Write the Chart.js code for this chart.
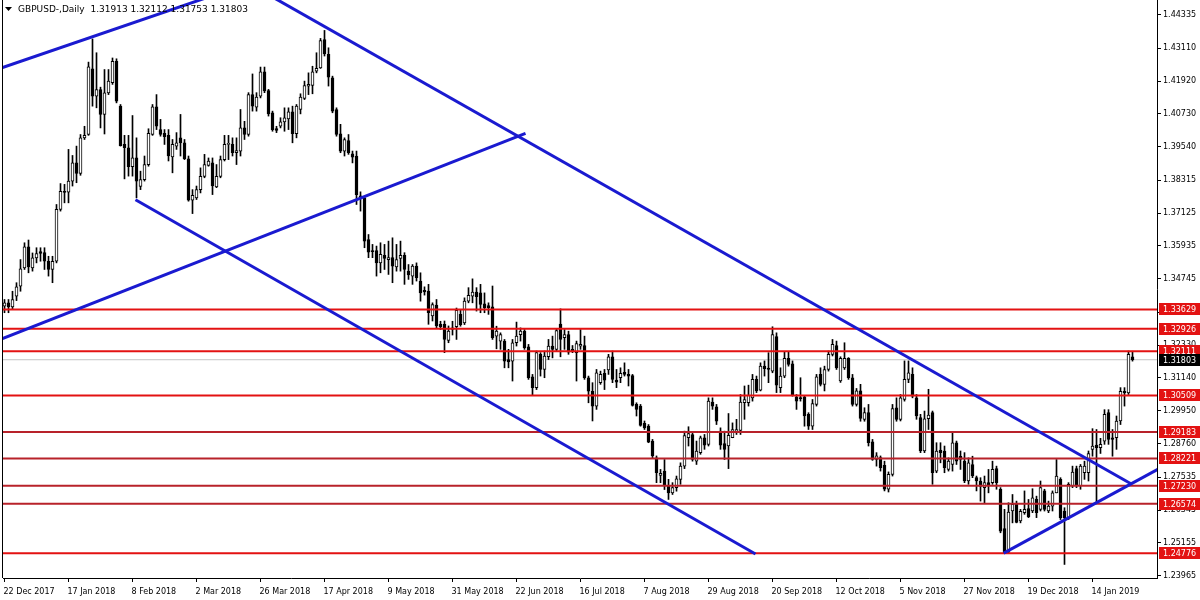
<!DOCTYPE html>
<html>
<head>
<meta charset="utf-8">
<script src="https://cdn.jsdelivr.net/npm/chart.js@4.4.1/dist/chart.umd.min.js"></script>
<style>
  html, body { margin: 0; padding: 0; background: #fff; }
</style>
</head>
<body>
<canvas id="chart" width="1200" height="600"></canvas>
<script>
// GBPUSD daily candles, 22 Dec 2017 .. 28 Jan 2019 (one entry per bar)
const opens = [
  1.3375,1.3387,1.3372,1.3411,1.3447,1.3514,1.3590,1.3514,1.3550,1.3573,
  1.3569,1.3538,1.3508,1.3538,1.3726,1.3792,1.3789,1.3829,1.3895,1.3857,
  1.3986,1.3998,1.4237,1.4137,1.4161,1.4071,1.4149,1.4186,1.4264,1.4101,
  1.3962,1.3950,1.3881,1.3913,1.3810,1.3834,1.3889,1.3998,1.4099,1.4016,
  1.4002,1.3995,1.3917,1.3956,1.3986,1.3968,1.3910,1.3760,1.3768,1.3798,
  1.3846,1.3886,1.3895,1.3808,1.3846,1.3907,1.3962,1.3962,1.3932,1.3938,
  1.4022,1.3998,1.4143,1.4097,1.4137,1.4226,1.4158,1.4077,1.4020,1.4028,
  1.4044,1.4055,1.4080,1.4001,1.4089,1.4129,1.4174,1.4176,1.4228,1.4240,
  1.4343,1.4289,1.4204,1.4089,1.4001,1.3938,1.3976,1.3928,1.3920,1.3775,
  1.3768,1.3617,1.3577,1.3577,1.3532,1.3559,1.3544,1.3551,1.3517,1.3548,
  1.3559,1.3502,1.3484,1.3520,1.3466,1.3432,1.3430,1.3339,1.3379,1.3309,
  1.3309,1.3250,1.3290,1.3300,1.3345,1.3314,1.3393,1.3411,1.3426,1.3423,
  1.3383,1.3377,1.3372,1.3266,1.3248,1.3248,1.3181,1.3175,1.3242,1.3271,
  1.3284,1.3227,1.3118,1.3079,1.3200,1.3145,1.3191,1.3230,1.3218,1.3310,
  1.3260,1.3272,1.3218,1.3206,1.3230,1.3232,1.3115,1.3066,1.3012,1.3097,
  1.3131,1.3143,1.3191,1.3106,1.3115,1.3135,1.3127,1.3123,1.3018,1.3012,
  1.2949,1.2939,1.2885,1.2824,1.2760,1.2776,1.2724,1.2697,1.2716,1.2746,
  1.2794,1.2897,1.2909,1.2812,1.2843,1.2897,1.2873,1.3027,1.3009,1.2921,
  1.2876,1.2867,1.2897,1.2921,1.2924,1.3024,1.3024,1.3042,1.3109,1.3070,
  1.3157,1.3150,1.3139,1.3264,1.3079,1.3121,1.3185,1.3165,1.3046,1.3042,
  1.3046,1.2982,1.2939,1.3018,1.3127,1.3091,1.3145,1.3200,1.3232,1.3103,
  1.3151,1.3185,1.3115,1.3018,1.3067,1.2964,1.2988,1.2882,1.2818,1.2825,
  1.2797,1.2710,1.2764,1.3006,1.2964,1.3036,1.3109,1.3127,1.3042,1.2970,
  1.2849,1.2966,1.2988,1.2776,1.2852,1.2849,1.2782,1.2800,1.2879,1.2830,
  1.2812,1.2740,1.2800,1.2752,1.2740,1.2716,1.2734,1.2734,1.2785,1.2710,
  1.2567,1.2482,1.2631,1.2655,1.2595,1.2625,1.2640,1.2631,1.2673,1.2637,
  1.2704,1.2631,1.2649,1.2697,1.2746,1.2631,1.2607,1.2722,1.2785,1.2722,
  1.2770,1.2770,1.2855,1.2870,1.2861,1.2885,1.2988,1.2897,1.2897,1.2958,
  1.3066,1.3060,1.31913
];
const highs = [
  1.3399,1.3399,1.3429,1.3460,1.3544,1.3605,1.3615,1.3568,1.3587,1.3587,
  1.3587,1.3556,1.3556,1.3744,1.3820,1.3817,1.3944,1.3922,1.3956,1.3998,
  1.4028,1.4261,1.4345,1.4295,1.4170,1.4234,1.4234,1.4276,1.4273,1.4107,
  1.3995,1.3995,1.4067,1.3986,1.3865,1.3920,1.4019,1.4107,1.4143,1.4053,
  1.4016,1.4016,1.3980,1.4005,1.4071,1.3980,1.3920,1.3798,1.3811,1.3877,
  1.3926,1.3913,1.3913,1.3889,1.3920,1.3995,1.3995,1.3986,1.3986,1.4089,
  1.4046,1.4150,1.4218,1.4150,1.4243,1.4243,1.4162,1.4083,1.4028,1.4059,
  1.4095,1.4095,1.4101,1.4107,1.4146,1.4192,1.4222,1.4246,1.4295,1.4347,
  1.4376,1.4313,1.4210,1.4095,1.4035,1.3986,1.3998,1.3938,1.3938,1.3790,
  1.3774,1.3635,1.3599,1.3593,1.3605,1.3599,1.3611,1.3623,1.3599,1.3611,
  1.3569,1.3526,1.3526,1.3532,1.3496,1.3445,1.3454,1.3387,1.3399,1.3320,
  1.3321,1.3303,1.3320,1.3368,1.3363,1.3405,1.3442,1.3474,1.3442,1.3454,
  1.3423,1.3387,1.3448,1.3302,1.3278,1.3254,1.3218,1.3254,1.3317,1.3296,
  1.3290,1.3236,1.3127,1.3212,1.3206,1.3212,1.3254,1.3266,1.3293,1.3365,
  1.3290,1.3284,1.3232,1.3248,1.3290,1.3266,1.3121,1.3097,1.3145,1.3139,
  1.3145,1.3200,1.3212,1.3145,1.3151,1.3169,1.3145,1.3127,1.3024,1.3018,
  1.2958,1.2945,1.2891,1.2831,1.2782,1.2818,1.2746,1.2734,1.2758,1.2806,
  1.2921,1.2937,1.2915,1.2885,1.2903,1.2909,1.3042,1.3042,1.3018,1.2933,
  1.2921,1.2985,1.2951,1.2964,1.3054,1.3085,1.3088,1.3127,1.3121,1.3169,
  1.3176,1.3206,1.3300,1.3278,1.3151,1.3208,1.3208,1.3176,1.3054,1.3115,
  1.3051,1.2988,1.3036,1.3127,1.3151,1.3157,1.3212,1.3254,1.3248,1.3191,
  1.3242,1.3188,1.3127,1.3076,1.3091,1.3006,1.3018,1.2891,1.2843,1.2831,
  1.2812,1.2773,1.3018,1.3042,1.3054,1.3176,1.3176,1.3151,1.3054,1.2982,
  1.2994,1.3073,1.2994,1.2879,1.2879,1.2867,1.2824,1.2915,1.2885,1.2849,
  1.2843,1.2824,1.2830,1.2758,1.2752,1.2758,1.2782,1.2812,1.2794,1.2716,
  1.2637,1.2661,1.2691,1.2667,1.2637,1.2704,1.2673,1.2712,1.2685,1.2740,
  1.2710,1.2667,1.2704,1.2818,1.2752,1.2643,1.2734,1.2794,1.2794,1.2800,
  1.2812,1.2849,1.2930,1.2927,1.2895,1.2999,1.2999,1.2927,1.2976,1.3079,
  1.3079,1.3212,1.32112
];
const lows = [
  1.3351,1.3351,1.3365,1.3395,1.3429,1.3508,1.3496,1.3502,1.3532,1.3538,
  1.3508,1.3484,1.3460,1.3532,1.3720,1.3750,1.3750,1.3811,1.3823,1.3850,
  1.3980,1.3995,1.4101,1.4095,1.4022,1.4000,1.4143,1.4180,1.4113,1.3956,
  1.3837,1.3847,1.3847,1.3768,1.3798,1.3829,1.3883,1.3995,1.4016,1.3992,
  1.3962,1.3902,1.3859,1.3944,1.3920,1.3907,1.3756,1.3711,1.3762,1.3786,
  1.3841,1.3883,1.3780,1.3805,1.3841,1.3902,1.3907,1.3920,1.3889,1.3920,
  1.3980,1.3992,1.4083,1.4083,1.4131,1.4150,1.4065,1.4010,1.4005,1.4022,
  1.4010,1.4016,1.3968,1.3986,1.4073,1.4125,1.4143,1.4146,1.4222,1.4238,
  1.4283,1.4174,1.4077,1.3992,1.3932,1.3920,1.3926,1.3895,1.3744,1.3720,
  1.3587,1.3551,1.3551,1.3484,1.3496,1.3508,1.3490,1.3460,1.3502,1.3502,
  1.3454,1.3472,1.3454,1.3466,1.3393,1.3415,1.3309,1.3321,1.3296,1.3290,
  1.3206,1.3242,1.3270,1.3254,1.3302,1.3308,1.3387,1.3387,1.3357,1.3351,
  1.3351,1.3345,1.3254,1.3220,1.3218,1.3151,1.3151,1.3103,1.3230,1.3248,
  1.3218,1.3109,1.3051,1.3072,1.3121,1.3115,1.3181,1.3187,1.3212,1.3191,
  1.3218,1.3200,1.3206,1.3103,1.3218,1.3109,1.3024,1.2958,1.3000,1.3091,
  1.3072,1.3127,1.3097,1.3079,1.3097,1.3121,1.3085,1.3012,1.2976,1.2939,
  1.2927,1.2879,1.2824,1.2734,1.2734,1.2709,1.2673,1.2691,1.2703,1.2728,
  1.2785,1.2867,1.2812,1.2800,1.2837,1.2855,1.2867,1.3000,1.2945,1.2855,
  1.2818,1.2785,1.2897,1.2909,1.2909,1.2964,1.3012,1.3030,1.3061,1.3067,
  1.3121,1.3097,1.3133,1.3061,1.3061,1.3115,1.3157,1.3048,1.3000,1.3030,
  1.2939,1.2927,1.2927,1.3012,1.3085,1.3067,1.3139,1.3194,1.3145,1.3098,
  1.3145,1.3109,1.3012,1.3012,1.2957,1.2957,1.2867,1.2815,1.2794,1.2776,
  1.2704,1.2700,1.2758,1.2957,1.2958,1.3030,1.3097,1.3042,1.2964,1.2843,
  1.2843,1.2927,1.2728,1.2770,1.2806,1.2770,1.2776,1.2776,1.2800,1.2782,
  1.2734,1.2728,1.2752,1.2704,1.2667,1.2661,1.2697,1.2728,1.2710,1.2552,
  1.2477,1.2477,1.2588,1.2588,1.2588,1.2619,1.2607,1.2625,1.2607,1.2631,
  1.2631,1.2625,1.2631,1.2697,1.2600,1.2437,1.2600,1.2716,1.2716,1.2710,
  1.2746,1.2740,1.2830,1.2661,1.2840,1.2873,1.2873,1.2830,1.2855,1.2945,
  1.3012,1.3054,1.31753
];
const closes = [
  1.3387,1.3372,1.3399,1.3445,1.3510,1.3590,1.3517,1.3550,1.3566,1.3566,
  1.3538,1.3508,1.3538,1.3726,1.3792,1.3788,1.3829,1.3895,1.3857,1.3986,
  1.3995,1.4244,1.4137,1.4161,1.4071,1.4149,1.4192,1.4264,1.4119,1.3958,
  1.3950,1.3881,1.3913,1.3829,1.3834,1.3889,1.4002,1.4099,1.4028,1.3998,
  1.3990,1.3920,1.3962,1.3968,1.3968,1.3910,1.3760,1.3777,1.3798,1.3846,
  1.3889,1.3902,1.3811,1.3846,1.3907,1.3962,1.3964,1.3932,1.3940,1.4022,
  1.3998,1.4143,1.4101,1.4134,1.4226,1.4156,1.4073,1.4016,1.4013,1.4044,
  1.4059,1.4080,1.4001,1.4101,1.4134,1.4176,1.4180,1.4226,1.4238,1.4339,
  1.4291,1.4206,1.4083,1.3998,1.3938,1.3980,1.3932,1.3916,1.3780,1.3768,
  1.3611,1.3571,1.3573,1.3532,1.3563,1.3548,1.3551,1.3520,1.3544,1.3559,
  1.3508,1.3488,1.3520,1.3478,1.3423,1.3427,1.3351,1.3381,1.3303,1.3300,
  1.3254,1.3284,1.3296,1.3360,1.3308,1.3393,1.3414,1.3426,1.3409,1.3381,
  1.3369,1.3369,1.3260,1.3284,1.3272,1.3175,1.3172,1.3242,1.3266,1.3284,
  1.3224,1.3115,1.3079,1.3206,1.3145,1.3194,1.3230,1.3218,1.3286,1.3254,
  1.3272,1.3208,1.3212,1.3239,1.3236,1.3115,1.3066,1.3012,1.3133,1.3127,
  1.3106,1.3191,1.3109,1.3099,1.3131,1.3127,1.3121,1.3014,1.3000,1.2942,
  1.2933,1.2881,1.2831,1.2770,1.2768,1.2722,1.2697,1.2716,1.2748,1.2794,
  1.2905,1.2912,1.2818,1.2849,1.2897,1.2870,1.3030,1.3012,1.2957,1.2870,
  1.2855,1.2906,1.2927,1.2927,1.3027,1.3036,1.3051,1.3109,1.3067,1.3157,
  1.3148,1.3145,1.3272,1.3088,1.3121,1.3185,1.3163,1.3052,1.3030,1.3039,
  1.2976,1.2939,1.3021,1.3118,1.3091,1.3145,1.3200,1.3236,1.3151,1.3185,
  1.3185,1.3115,1.3018,1.3067,1.2967,1.2988,1.2879,1.2818,1.2831,1.2788,
  1.2710,1.2764,1.3003,1.2964,1.3042,1.3109,1.3133,1.3048,1.2976,1.2849,
  1.2966,1.2979,1.2770,1.2849,1.2843,1.2788,1.2812,1.2879,1.2812,1.2818,
  1.2740,1.2806,1.2758,1.2740,1.2720,1.2734,1.2722,1.2782,1.2734,1.2558,
  1.2480,1.2627,1.2655,1.2590,1.2630,1.2637,1.2610,1.2679,1.2625,1.2716,
  1.2637,1.2649,1.2697,1.2758,1.2607,1.2607,1.2728,1.2772,1.2722,1.2794,
  1.2794,1.2840,1.2867,1.2861,1.2873,1.2982,1.2891,1.2891,1.2958,1.3066,
  1.3060,1.3200,1.31803
];

// time axis: one label every 16 bars
const dateLabels = ['22 Dec 2017', '17 Jan 2018', '8 Feb 2018', '2 Mar 2018', '26 Mar 2018',
  '17 Apr 2018', '9 May 2018', '31 May 2018', '22 Jun 2018', '16 Jul 2018', '7 Aug 2018',
  '29 Aug 2018', '20 Sep 2018', '12 Oct 2018', '5 Nov 2018', '27 Nov 2018', '19 Dec 2018', '14 Jan 2019'];
const barsPerLabel = 16;

const priceTicks = [1.44335, 1.43110, 1.41920, 1.40730, 1.39540, 1.38315, 1.37125, 1.35935, 1.34745,
  1.33520, 1.32330, 1.31140, 1.29950, 1.28760, 1.27535, 1.26345, 1.25155, 1.23965];

// horizontal levels and the current bid
const levels = [1.33629, 1.32926, 1.32111, 1.30509, 1.29183, 1.28221, 1.27230, 1.26574, 1.24776];
const bidPrice = 1.31803;

// trend lines as [bar, price] end points
const trendLines = [
  [[-1, 1.4239], [60, 1.4542]],
  [[64, 1.4522], [281.5, 1.2731]],
  [[-1, 1.3254], [130.25, 1.4002]],
  [[32.75, 1.3761], [187.75, 1.2475]],
  [[249.8, 1.2478], [295, 1.2835]]
];

///////////// styles /////////////
const FONT = 'DejaVu Sans';
const levelColours = ['#e31212', '#e31212', '#e31212', '#e31212', '#b8222a', '#b8222a', '#b8222a', '#b8222a', '#e31212'];
const BLUE = '#1a1ad0';

///////////// datasets /////////////
const wickData = highs.map((h, i) => ({ x: i, y: [lows[i], h] }));
const bodyData = opens.map((o, i) => ({ x: i, y: [o, closes[i]] }));
const bodyFill = opens.map((o, i) => closes[i] >= o ? '#ffffff' : '#000000');

const datasets = [];
datasets.push({
  type: 'line',
  data: [{ x: -5, y: bidPrice }, { x: 300, y: bidPrice }],
  borderColor: '#c4c4c4', borderWidth: 1, pointRadius: 0, order: 6
});
datasets.push({
  type: 'bar', data: wickData, backgroundColor: '#000', borderWidth: 0,
  barThickness: 1, grouped: false, order: 5
});
datasets.push({
  type: 'bar', data: bodyData, backgroundColor: bodyFill, borderColor: '#000',
  borderWidth: 1, borderSkipped: false, barThickness: 3, minBarLength: 1,
  grouped: false, order: 4
});
levels.forEach((p, k) => {
  datasets.push({
    type: 'line',
    data: [{ x: -5, y: p }, { x: 300, y: p }],
    borderColor: levelColours[k], borderWidth: 2, pointRadius: 0, order: 3
  });
});
trendLines.forEach(seg => {
  datasets.push({
    type: 'line',
    data: seg.map(pt => ({ x: pt[0], y: pt[1] })),
    borderColor: BLUE, borderWidth: 3, pointRadius: 0, order: 2
  });
});

///////////// overlay: title, frame and price boxes /////////////
const overlay = {
  id: 'overlay',
  afterDraw(chart) {
    const ctx = chart.ctx;
    const area = chart.chartArea;
    const yScale = chart.scales.y;
    ctx.save();

    // left frame line
    ctx.fillStyle = '#000';
    ctx.fillRect(area.left - 1, 0, 1, area.bottom);

    // title
    ctx.beginPath();
    ctx.moveTo(5, 7); ctx.lineTo(12, 7); ctx.lineTo(8.5, 11); ctx.closePath();
    ctx.fill();
    const last = opens.length - 1;
    const ohlc = [opens[last], highs[last], lows[last], closes[last]].map(v => v.toFixed(5)).join(' ');
    ctx.font = '9px "' + FONT + '"';
    ctx.textBaseline = 'middle';
    ctx.textAlign = 'left';
    ctx.fillText('GBPUSD-,Daily  ' + ohlc, 18, 10);

    // price boxes on the right scale
    ctx.font = '8px "' + FONT + '"';
    const box = (price, bg) => {
      const y = Math.round(yScale.getPixelForValue(price));
      ctx.fillStyle = bg;
      ctx.fillRect(area.right + 2, y - 6, chart.width - area.right - 2, 12);
      ctx.fillStyle = '#fff';
      ctx.fillText(price.toFixed(5), area.right + 6, y + 0.5);
    };
    levels.forEach(p => box(p, '#e31212'));
    box(bidPrice, '#000');
    ctx.restore();
  }
};

// no extra room round the plot for half-labels
const noPad = s => { s.paddingTop = 0; s.paddingBottom = 0; s.paddingLeft = 0; s.paddingRight = 0; };

new Chart(document.getElementById('chart'), {
  type: 'bar',
  data: { datasets: datasets },
  options: {
    responsive: false,
    animation: false,
    devicePixelRatio: 1,
    layout: { padding: { left: 3, right: 0, top: 0, bottom: 0 } },
    plugins: { legend: { display: false }, tooltip: { enabled: false } },
    scales: {
      x: {
        type: 'linear',
        min: -0.375,
        max: 288.125,
        offset: false,
        afterBuildTicks: s => { s.ticks = dateLabels.map((d, k) => ({ value: k * barsPerLabel })); },
        afterFit: s => { s.height = 22; noPad(s); },
        ticks: {
          autoSkip: false, maxRotation: 0, align: 'start', labelOffset: -1, padding: 5,
          color: '#000', font: { family: FONT, size: 8 },
          callback: v => dateLabels[Math.round(v / barsPerLabel)]
        },
        grid: { offset: false, drawOnChartArea: false, drawTicks: true, tickLength: 4, color: '#000' },
        border: { display: true, color: '#000' }
      },
      y: {
        type: 'linear',
        position: 'right',
        min: 1.23878,
        max: 1.44865,
        afterBuildTicks: s => { s.ticks = priceTicks.map(v => ({ value: v })); },
        afterFit: s => { s.width = 43; noPad(s); },
        ticks: {
          autoSkip: false, padding: 2, color: '#000', font: { family: FONT, size: 8 },
          callback: v => v.toFixed(5)
        },
        grid: { offset: false, drawOnChartArea: false, drawTicks: true, tickLength: 4, color: '#000' },
        border: { display: true, color: '#000' }
      }
    }
  },
  plugins: [overlay]
});
</script>
</body>
</html>
